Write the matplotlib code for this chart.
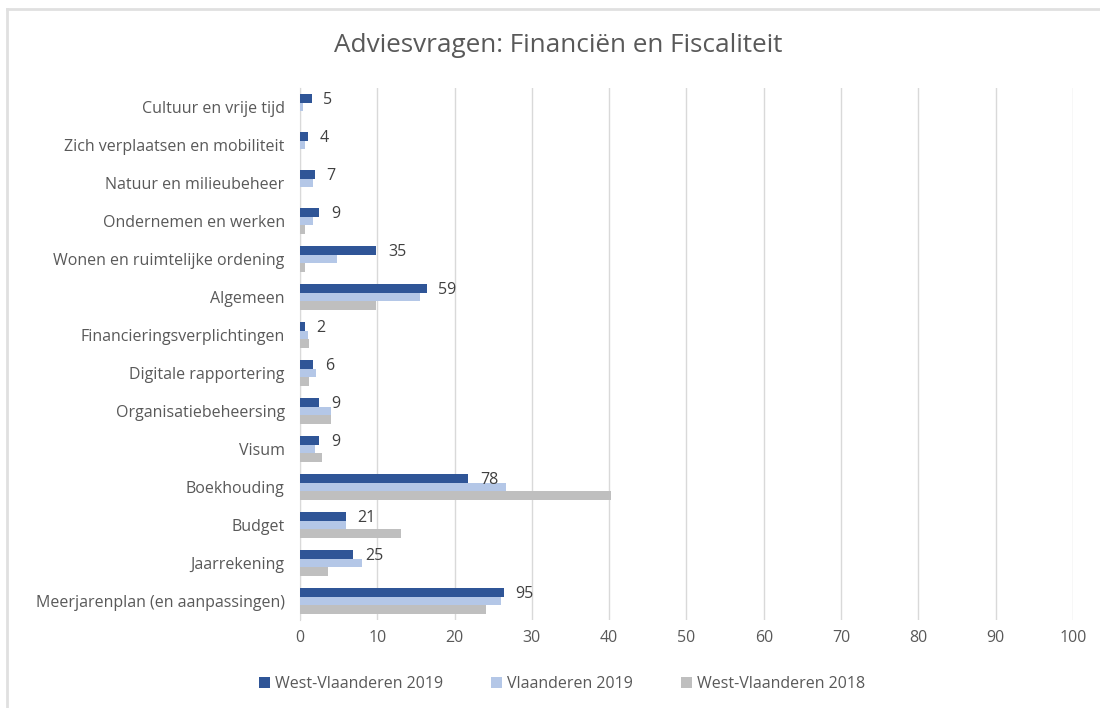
import matplotlib.pyplot as plt
import numpy as np
from matplotlib.lines import Line2D

plt.rcParams['font.family'] = ['Open Sans', 'DejaVu Sans']

# categories, bottom to top
categories = [
    "Meerjarenplan (en aanpassingen)", "Jaarrekening", "Budget", "Boekhouding",
    "Visum", "Organisatiebeheersing", "Digitale rapportering",
    "Financieringsverplichtingen", "Algemeen", "Wonen en ruimtelijke ordening",
    "Ondernemen en werken", "Natuur en milieubeheer",
    "Zich verplaatsen en mobiliteit", "Cultuur en vrije tijd",
]
west_2019 = [26.4, 6.9, 5.9, 21.8, 2.5, 2.5, 1.7, 0.6, 16.4, 9.9, 2.5, 1.9, 1.05, 1.5]
vl_2019 = [26.0, 8.0, 5.9, 26.6, 1.9, 4.0, 2.05, 1.0, 15.5, 4.8, 1.7, 1.7, 0.6, 0.4]
west_2018 = [24.1, 3.6, 13.1, 40.3, 2.9, 4.0, 1.2, 1.2, 9.9, 0.6, 0.6, 0, 0, 0]
counts = [95, 25, 21, 78, 9, 9, 6, 2, 59, 35, 9, 7, 4, 5]

c_dark = "#2F5597"
c_light = "#B4C7E7"
c_gray = "#BFBFBF"
txt = "#595959"

fig = plt.figure(figsize=(11, 7.08), dpi=100)
ax = fig.add_axes([0.2727, 0.1243, 0.7027, 0.7514])

y = np.arange(len(categories))
h = 0.22
ax.barh(y + h, west_2019, height=h, color=c_dark, label="West-Vlaanderen 2019", zorder=3)
ax.barh(y, vl_2019, height=h, color=c_light, label="Vlaanderen 2019", zorder=3)
ax.barh(y - h, west_2018, height=h, color=c_gray, label="West-Vlaanderen 2018", zorder=3)

for yi, v, c in zip(y, west_2019, counts):
    ax.text(v + 1.5, yi + h - 0.04, str(c), va="center", ha="left",
            fontsize=11.5, color="#404040")

ax.set_xlim(0, 100)
ax.set_ylim(-0.5, len(categories) - 0.5)
ax.set_xticks(range(0, 101, 10))
ax.set_yticks(y)
ax.set_yticklabels(categories)
ax.tick_params(axis="both", length=0, labelsize=11.5, labelcolor=txt)
ax.tick_params(axis="y", pad=11)
ax.tick_params(axis="x", pad=7)
ax.grid(axis="x", color="#D9D9D9", linewidth=1, zorder=0)
for s in ["top", "right", "bottom"]:
    ax.spines[s].set_visible(False)
ax.spines["left"].set_color("#D9D9D9")

fig.text(0.507, 0.936, "Adviesvragen: Financiën en Fiscaliteit", ha="center",
         va="center", fontsize=18.8, color=txt)

handles, labels = ax.get_legend_handles_labels()
fig.legend(handles, labels, loc="center", bbox_to_anchor=(0.511, 0.034), ncol=3,
           frameon=False, fontsize=11.5, handlelength=0.7, handleheight=0.7,
           handletextpad=0.3, columnspacing=3.0, labelcolor=txt)

# chart border (top and left visible)
fig.add_artist(Line2D([7 / 1100, 1], [1 - 9 / 708, 1 - 9 / 708], color="#E0E0E0", lw=2))
fig.add_artist(Line2D([7 / 1100, 7 / 1100], [0, 1 - 9 / 708], color="#E0E0E0", lw=2))

fig.savefig("out.png", dpi=100)
